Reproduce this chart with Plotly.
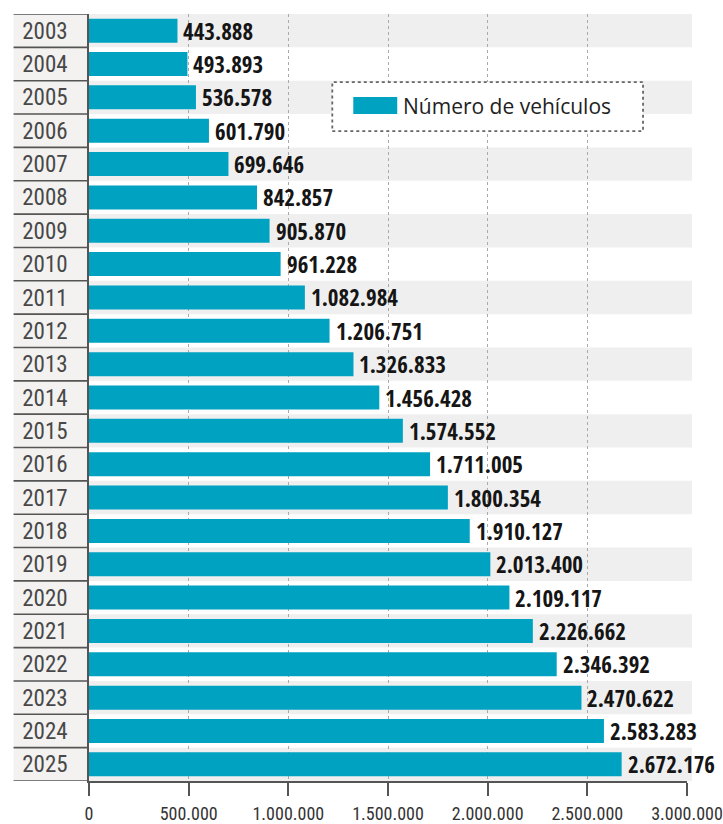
import plotly.graph_objects as go

years = [str(y) for y in range(2003, 2026)]
vehicles = [443888, 493893, 536578, 601790, 699646, 842857, 905870, 961228,
            1082984, 1206751, 1326833, 1456428, 1574552, 1711005, 1800354,
            1910127, 2013400, 2109117, 2226662, 2346392, 2470622, 2583283,
            2672176]
series_name = "Número de vehículos"
x_ticks = [0, 500000, 1000000, 1500000, 2000000, 2500000, 3000000]

W, H = 723, 824
ML, MR, MT, MB = 88.5, 36, 14, 43.3
PW = W - ML - MR
PH = H - MT - MB

def px_x(px):
    return (px - ML) / PW

def px_y(py):
    return (H - MB - py) / PH

BAR = "#00A2C2"
COND = "Roboto Condensed, Open Sans Condensed, sans-serif"
BOLDCOND = "Open Sans Condensed, Roboto Condensed, sans-serif"

fig = go.Figure()
fig.add_trace(go.Bar(x=vehicles, y=years, orientation="h", marker_color=BAR,
                     marker_line_width=0, name=series_name, showlegend=False))

shapes = []
n = len(years)
for i in range(n):
    if i % 2 == 0:
        shapes.append(dict(type="rect", xref="paper", yref="y", x0=0, x1=px_x(692),
                           y0=i - 0.5, y1=i + 0.5, fillcolor="#efefef",
                           line_width=0, layer="below"))
shapes.append(dict(type="rect", xref="paper", yref="y", x0=px_x(13), x1=0,
                   y0=-0.5, y1=n - 0.5, fillcolor="#f3f2f1", line_width=0, layer="below"))
for i in range(n + 1):
    shapes.append(dict(type="line", xref="paper", yref="y", x0=px_x(13), x1=0,
                       y0=i - 0.5, y1=i - 0.5, line=dict(color="#555", width=1.6)))
shapes.append(dict(type="rect", xref="paper", yref="paper", x0=px_x(332), x1=px_x(643),
                   y0=px_y(131), y1=px_y(82), fillcolor="white",
                   line=dict(color="#666", width=1.8, dash="dot"), layer="above"))
shapes.append(dict(type="rect", xref="paper", yref="paper", x0=px_x(353), x1=px_x(397),
                   y0=px_y(114), y1=px_y(97), fillcolor=BAR, line_width=0, layer="above"))

annotations = []
for i, v in enumerate(vehicles):
    annotations.append(dict(x=v, y=i, xref="x", yref="y", xanchor="left", yanchor="middle",
                            xshift=4, showarrow=False,
                            text=f"{v:,}".replace(",", "."),
                            font=dict(family=BOLDCOND, size=23, color="#151515", weight="bold")))
annotations.append(dict(x=px_x(401), y=px_y(106), xref="paper", yref="paper",
                        xanchor="left", yanchor="middle", showarrow=False,
                        text=series_name,
                        font=dict(family="Open Sans, sans-serif", size=21, color="#222")))

fig.update_layout(
    width=W, height=H,
    margin=dict(l=ML, r=MR, t=MT, b=MB, pad=0, autoexpand=False),
    paper_bgcolor="white", plot_bgcolor="rgba(0,0,0,0)",
    bargap=0.28,
    separators=",.",
    shapes=shapes, annotations=annotations,
    showlegend=False,
)
fig.update_xaxes(range=[0, 3000000], tickvals=x_ticks, tickformat=",d",
                 showgrid=True, gridcolor="#aaa", griddash="dot", gridwidth=1,
                 zeroline=False, showline=True, linecolor="#555", linewidth=1.6,
                 ticks="outside", ticklen=13, tickwidth=1.6, tickcolor="#555",
                 ticklabeloverflow="allow", automargin=False, ticklabelstandoff=3,
                 tickfont=dict(family=COND, size=18, color="#333"),
                 fixedrange=True)
fig.update_yaxes(type="category", categoryorder="array", categoryarray=years,
                 range=[n - 0.5, -0.5], showgrid=False, zeroline=False,
                 showline=True, linecolor="#555", linewidth=1.6, ticks="",
                 ticklabelstandoff=15, automargin=False,
                 tickfont=dict(family=COND, size=23, color="#484848"))

fig.write_html("out.html")
